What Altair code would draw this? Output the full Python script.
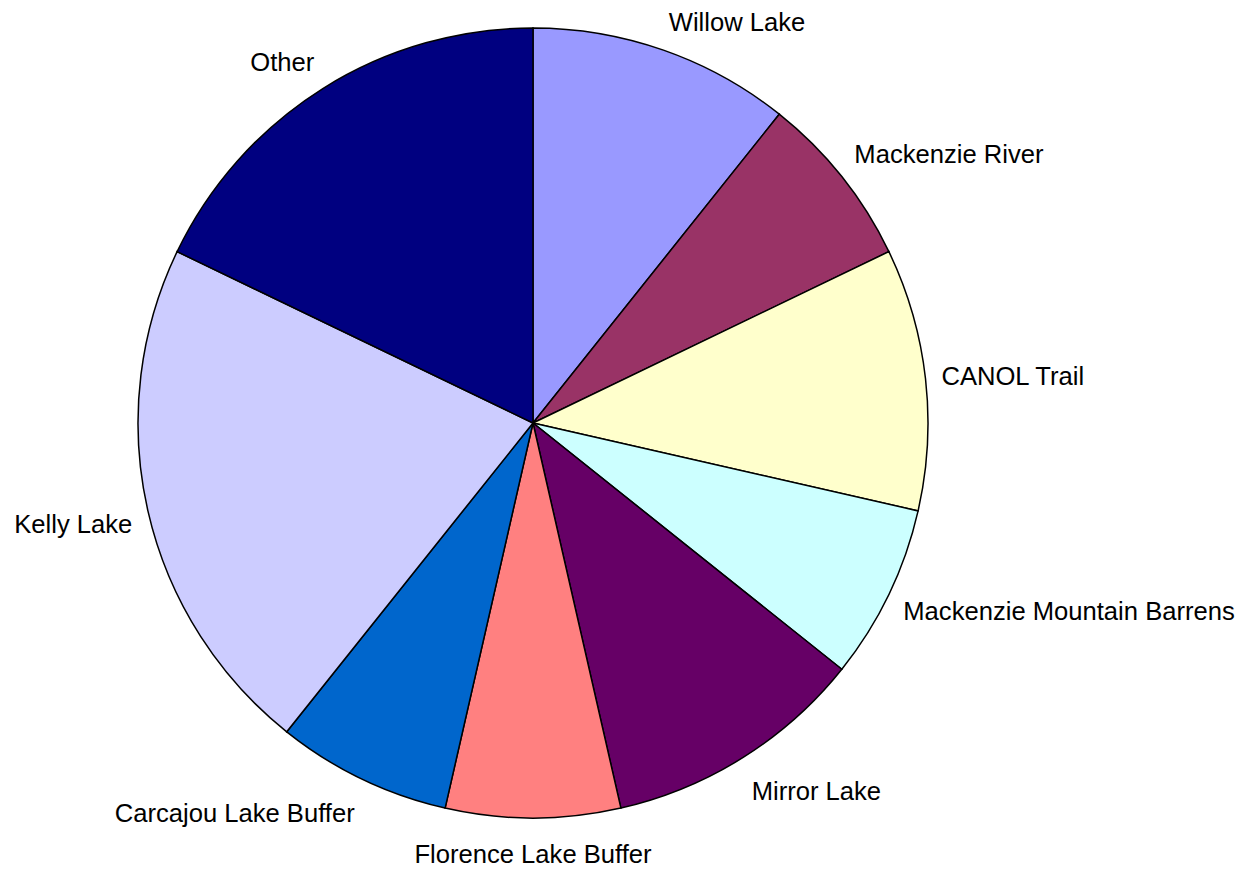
import altair as alt
import pandas as pd

labels = ["Willow Lake", "Mackenzie River", "CANOL Trail", "Mackenzie Mountain Barrens",
          "Mirror Lake", "Florence Lake Buffer", "Carcajou Lake Buffer", "Kelly Lake", "Other"]
counts = [3, 2, 3, 2, 3, 2, 2, 6, 5]
colors = ["#9999FF", "#993366", "#FFFFCC", "#CCFFFF", "#660066",
          "#FF8080", "#0066CC", "#CCCCFF", "#000080"]

df = pd.DataFrame({"label": labels, "count": counts, "idx": list(range(len(labels)))})

base = (
    alt.Chart(df)
    .transform_window(cum="sum(count)", frame=[None, 0], sort=[{"field": "idx"}])
    .transform_joinaggregate(total="sum(count)")
    .transform_calculate(mid="(datum.cum - datum.count/2)/datum.total")
    .transform_calculate(c="cos(2*PI*datum.mid)", s="sin(2*PI*datum.mid)")
)

theta = alt.Theta("count:Q", stack=True)
order = alt.Order("idx:Q")
cx = alt.value(525)
cy = alt.value(415)

pie = base.mark_arc(outerRadius=395, stroke="black", strokeWidth=1.5).encode(
    theta=theta,
    order=order,
    x=cx,
    y=cy,
    color=alt.Color("label:N", scale=alt.Scale(domain=labels, range=colors), legend=None),
)

font = "Liberation Sans"
fs = 25.6
R = 411

h_groups = [
    ("datum.s > 0.05", "left"),
    ("datum.s < -0.05", "right"),
    ("abs(datum.s) <= 0.05", "center"),
]
v_groups = [
    ("datum.c > 0.3", "bottom", 1),
    ("abs(datum.c) <= 0.15", "middle", 0),
    ("datum.c < -0.15 && datum.c >= -0.5", "middle", 11),
    ("datum.c < -0.5", "top", 9),
]

layers = [pie]
for hp, align in h_groups:
    for vp, baseline, dy in v_groups:
        pred = f"({hp}) && ({vp})"
        layers.append(
            base.mark_text(radius=R, align=align, baseline=baseline, dy=dy,
                           font=font, fontSize=fs, color="black").encode(
                theta=theta, order=order, x=cx, y=cy,
                text=alt.condition(pred, alt.Text("label:N"), alt.value("")),
            )
        )

chart = (
    alt.layer(*layers)
    .properties(width=1232, height=861, padding=0, autosize="none")
    .configure_view(stroke=None)
)

chart.save("out.html", embed_options={"renderer": "svg", "actions": False})
